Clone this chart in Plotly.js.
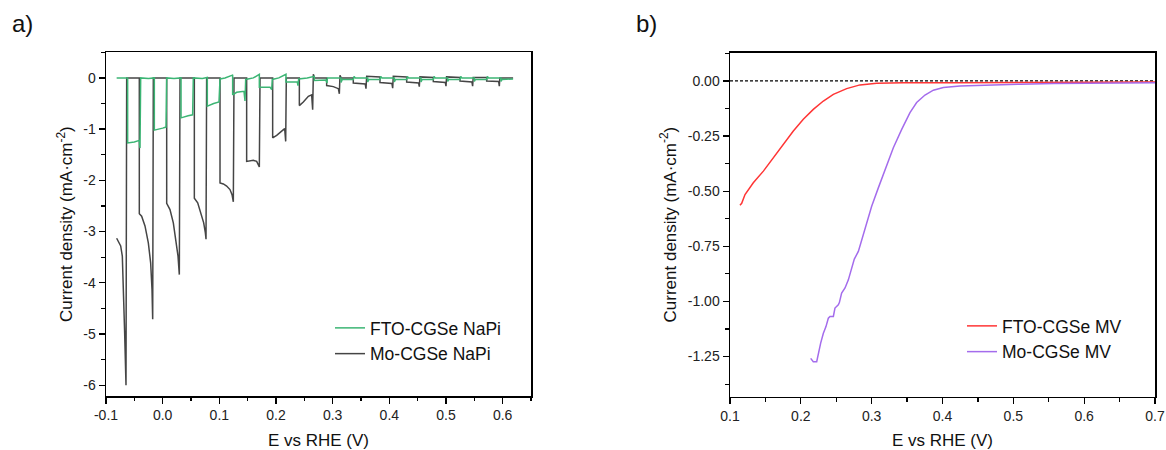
<!DOCTYPE html>
<html>
<head>
<meta charset="utf-8">
<script src="https://cdn.plot.ly/plotly-3.0.1.min.js"></script>
<style>html,body{margin:0;padding:0;background:#fff;}#chart{width:1166px;height:450px;}</style>
</head>
<body>
<div id="chart"></div>
<script>
// ---------- Panel a: chopped-light LSV in NaPi ----------
const moNaPiE = [
  -0.0812, -0.0741, -0.0712, -0.0694, -0.0671, -0.0647, -0.0635,
  -0.0412, -0.0412, -0.0371, -0.0312, -0.0253, -0.0212, -0.0188, -0.0176, -0.0165,
  0.0071, 0.0071, 0.0129, 0.0188, 0.0235, 0.0271, 0.0294, 0.0306,
  0.0559, 0.0559, 0.0618, 0.0676, 0.0724, 0.0753, 0.0765, 0.0776,
  0.1012, 0.1012, 0.1071, 0.1129, 0.1188, 0.1224, 0.1247, 0.1259,
  0.1482, 0.1482, 0.1600, 0.1659, 0.1688, 0.1706, 0.1718,
  0.1941, 0.1941, 0.2012, 0.2100, 0.2153, 0.2171, 0.2182,
  0.2412, 0.2412, 0.2482, 0.2571, 0.2629, 0.2647, 0.2659, 0.2680,
  0.2894, 0.2894, 0.3012, 0.3100, 0.3118, 0.3129, 0.3150,
  0.3364, 0.3364, 0.3575, 0.3588, 0.3600,
  0.3835, 0.3835, 0.4046, 0.4059, 0.4070,
  0.4306, 0.4306, 0.4517, 0.4529, 0.4540,
  0.4776, 0.4776, 0.4988, 0.5000, 0.5010,
  0.5247, 0.5247, 0.5458, 0.5470, 0.5480,
  0.5718, 0.5718, 0.5929, 0.5941, 0.5950,
  0.6184
];
const moNaPiJ = [
  -3.13, -3.28, -3.48, -4.00, -4.97, -6.00, 0.00,
  0.00, -2.65, -2.70, -2.89, -3.22, -3.61, -4.13, -4.71, 0.00,
  0.00, -2.45, -2.57, -2.83, -3.15, -3.48, -3.84, 0.00,
  0.00, -2.35, -2.44, -2.63, -2.83, -3.02, -3.15, 0.00,
  0.00, -2.05, -2.07, -2.11, -2.18, -2.28, -2.42, 0.00,
  0.00, -1.63, -1.61, -1.63, -1.69, -1.74, 0.00,
  0.00, -1.17, -1.12, -1.04, -0.99, -1.24, 0.00,
  0.00, -0.54, -0.47, -0.36, -0.33, -0.62, 0.07, 0.00,
  0.00, -0.15, -0.17, -0.21, -0.31, 0.05, 0.00,
  0.00, -0.10, -0.12, -0.21, 0.03,
  0.02, -0.09, -0.11, -0.20, 0.03,
  0.02, -0.08, -0.10, -0.17, 0.02,
  0.01, -0.07, -0.09, -0.16, 0.02,
  0.01, -0.06, -0.08, -0.16, 0.01,
  0.01, -0.06, -0.07, -0.16, 0.00,
  0.00
];
const ftoNaPiE = [
  -0.0812, -0.0618, -0.0618, -0.0500, -0.0412, -0.0400, -0.0388,
  -0.0250, -0.0147, -0.0147, 0.0000, 0.0059, 0.0071,
  0.0200, 0.0324, 0.0324, 0.0450, 0.0529, 0.0541,
  0.0700, 0.0788, 0.0788, 0.0900, 0.0994, 0.1012,
  0.1100, 0.1220, 0.1235, 0.1235, 0.1306, 0.1435, 0.1453, 0.1465,
  0.1600, 0.1690, 0.1706, 0.1706, 0.1894, 0.1924, 0.1935,
  0.2050, 0.2160, 0.2176, 0.2176, 0.2376, 0.2388, 0.2400,
  0.2550, 0.2676, 0.2676, 0.2880, 0.2900, 0.2906,
  0.3147, 0.3147, 0.3170, 0.3365, 0.3377, 0.3400,
  0.3618, 0.3618, 0.3640, 0.3836, 0.3848, 0.3870,
  0.4088, 0.4088, 0.4110, 0.4306, 0.4318, 0.4340,
  0.4559, 0.4559, 0.4580, 0.4777, 0.4789, 0.4810,
  0.5030, 0.5030, 0.5050, 0.5248, 0.5260, 0.5280,
  0.5500, 0.5500, 0.5520, 0.5718, 0.5730, 0.5750,
  0.5970, 0.5970, 0.5990, 0.6184
];
const ftoNaPiJ = [
  0.00, 0.00, -1.27, -1.25, -1.22, -1.37, 0.00,
  -0.01, 0.00, -1.02, -0.98, -0.96, 0.00,
  -0.01, 0.00, -0.78, -0.74, -0.72, 0.00,
  -0.01, 0.01, -0.55, -0.50, -0.47, -0.02,
  0.00, 0.05, 0.06, -0.33, -0.28, -0.26, -0.45, -0.03,
  0.00, 0.06, 0.07, -0.18, -0.18, -0.23, -0.03,
  0.00, 0.07, 0.07, -0.08, -0.08, -0.15, -0.02,
  0.00, 0.03, -0.05, -0.04, -0.10, 0.00,
  0.00, -0.09, -0.03, -0.03, 0.03, 0.00,
  0.00, -0.08, -0.03, -0.03, 0.03, 0.00,
  0.00, -0.08, -0.03, -0.03, 0.03, 0.00,
  0.00, -0.08, -0.03, -0.03, 0.03, 0.00,
  0.00, -0.07, -0.03, -0.03, 0.03, 0.00,
  0.00, -0.07, -0.03, -0.03, 0.03, 0.00,
  0.00, -0.07, -0.03, -0.02
];

// ---------- Panel b: LSV with methyl viologen ----------
const ftoMvE = [0.1141, 0.1165, 0.1212, 0.1329, 0.1471, 0.1612, 0.1753, 0.1894, 0.2035, 0.2176,
  0.2318, 0.2459, 0.2647, 0.2835, 0.3071, 0.3447, 0.4153, 0.5094, 0.6035, 0.7000];
const ftoMvJ = [-0.564, -0.555, -0.515, -0.462, -0.409, -0.348, -0.288, -0.227, -0.174, -0.129,
  -0.091, -0.061, -0.035, -0.018, -0.011, -0.008, -0.008, -0.007, -0.006, -0.005];
const moMvE = [0.2139, 0.2176, 0.2224, 0.2247, 0.2280, 0.2318, 0.2355, 0.2388, 0.2412, 0.2459,
  0.2482, 0.2529, 0.2544, 0.2576, 0.2624, 0.2671, 0.2718, 0.2755, 0.2812, 0.2859,
  0.2929, 0.3000, 0.3094, 0.3188, 0.3306, 0.3424, 0.3541, 0.3635, 0.3753, 0.3871,
  0.4012, 0.4247, 0.4624, 0.5094, 0.5565, 0.6035, 0.7000];
const moMvJ = [-1.258, -1.273, -1.273, -1.235, -1.189, -1.144, -1.114, -1.076, -1.068, -1.068,
  -1.030, -1.015, -1.005, -0.962, -0.939, -0.902, -0.848, -0.808, -0.773, -0.720,
  -0.644, -0.568, -0.485, -0.402, -0.303, -0.220, -0.144, -0.098, -0.064, -0.042,
  -0.030, -0.023, -0.018, -0.015, -0.012, -0.011, -0.008];
const zeroLineE = [0.1, 0.7];
const zeroLineJ = [0, 0];

// ---------- tick labels ----------
const aXTickVals = [-0.1, 0, 0.1, 0.2, 0.3, 0.4, 0.5, 0.6];
const aXTickText = ['-0.1', '0.0', '0.1', '0.2', '0.3', '0.4', '0.5', '0.6'];
const aYTickVals = [0, -1, -2, -3, -4, -5, -6];
const aYTickText = ['0', '-1', '-2', '-3', '-4', '-5', '-6'];
const bXTickVals = [0.1, 0.2, 0.3, 0.4, 0.5, 0.6, 0.7];
const bXTickText = ['0.1', '0.2', '0.3', '0.4', '0.5', '0.6', '0.7'];
const bYTickVals = [0, -0.25, -0.5, -0.75, -1.0, -1.25];
const bYTickText = ['0.00', '-0.25', '-0.50', '-0.75', '-1.00', '-1.25'];

const FONT = 'Liberation Sans, Arial, sans-serif';
const W = 1166, H = 450;

const traces = [
  {x: moNaPiE, y: moNaPiJ, xaxis: 'x', yaxis: 'y', mode: 'lines', name: 'Mo-CGSe NaPi',
   line: {color: '#454545', width: 1.5}, legend: 'legend', legendrank: 2},
  {x: ftoNaPiE, y: ftoNaPiJ, xaxis: 'x', yaxis: 'y', mode: 'lines', name: 'FTO-CGSe NaPi',
   line: {color: '#3CB574', width: 1.5}, legend: 'legend', legendrank: 1},
  {x: zeroLineE, y: zeroLineJ, xaxis: 'x2', yaxis: 'y2', mode: 'lines', showlegend: false,
   line: {color: '#000', width: 1.2, dash: '3px,2px'}, hoverinfo: 'skip'},
  {x: ftoMvE, y: ftoMvJ, xaxis: 'x2', yaxis: 'y2', mode: 'lines', name: 'FTO-CGSe MV',
   line: {color: '#FF3535', width: 1.5}, legend: 'legend2', legendrank: 1},
  {x: moMvE, y: moMvJ, xaxis: 'x2', yaxis: 'y2', mode: 'lines', name: 'Mo-CGSe MV',
   line: {color: '#A46CEC', width: 1.5}, legend: 'legend2', legendrank: 2}
];

const TITLE_FONT = {family: FONT, size: 17, color: '#111'};
const MINOR = {ticks: 'outside', ticklen: 3.5, tickwidth: 1.2, tickcolor: '#000'};

function axisBase(extra) {
  return Object.assign({
    showline: true, linecolor: '#000', linewidth: 1.5, mirror: true,
    ticks: 'outside', ticklen: 6, tickwidth: 1.3, tickcolor: '#000',
    showgrid: false, zeroline: false, tickmode: 'array',
    tickfont: {family: FONT, size: 14, color: '#222'}
  }, extra);
}

const layout = {
  width: W, height: H,
  margin: {l: 0, r: 0, t: 0, b: 0},
  paper_bgcolor: '#fff', plot_bgcolor: '#fff',
  font: {family: FONT, color: '#111'},
  xaxis: axisBase({domain: [106/W, 531/W], range: [-0.1, 0.65], anchor: 'y',
    tickvals: aXTickVals, ticktext: aXTickText,
    minor: Object.assign({dtick: 0.05, tick0: 0}, MINOR),
    title: {text: 'E vs RHE (V)', font: TITLE_FONT}}),
  yaxis: axisBase({domain: [(H-396)/H, (H-52.3)/H], range: [-6.21, 0.5], anchor: 'x',
    tickvals: aYTickVals, ticktext: aYTickText,
    minor: Object.assign({dtick: 0.5, tick0: 0}, MINOR),
    title: {text: 'Current density (mA·cm<sup>-2</sup>)', font: TITLE_FONT, standoff: 6}}),
  xaxis2: axisBase({domain: [730/W, 1155/W], range: [0.1, 0.7], anchor: 'y2',
    tickvals: bXTickVals, ticktext: bXTickText,
    minor: Object.assign({dtick: 0.05, tick0: 0}, MINOR),
    title: {text: 'E vs RHE (V)', font: TITLE_FONT}}),
  yaxis2: axisBase({domain: [(H-396.5)/H, (H-52.7)/H], range: [-1.431, 0.128], anchor: 'x2',
    tickvals: bYTickVals, ticktext: bYTickText,
    minor: Object.assign({dtick: 0.125, tick0: 0}, MINOR),
    title: {text: 'Current density (mA·cm<sup>-2</sup>)', font: TITLE_FONT, standoff: 7}}),
  legend: {x: 330/W, xanchor: 'left', y: 1 - 310/H, yanchor: 'top', bgcolor: 'rgba(0,0,0,0)',
    borderwidth: 0, font: {family: FONT, size: 17.5, color: '#111'}, tracegroupgap: 0},
  legend2: {x: 962/W, xanchor: 'left', y: 1 - 308/H, yanchor: 'top', bgcolor: 'rgba(0,0,0,0)',
    borderwidth: 0, font: {family: FONT, size: 17.5, color: '#111'}, tracegroupgap: 0},
  showlegend: true,
  annotations: [
    {text: 'a)', x: 10/W, y: 1 - 23/H, xref: 'paper', yref: 'paper', xanchor: 'left', yanchor: 'middle',
     showarrow: false, font: {family: FONT, size: 24, color: '#111'}},
    {text: 'b)', x: 634/W, y: 1 - 23/H, xref: 'paper', yref: 'paper', xanchor: 'left', yanchor: 'middle',
     showarrow: false, font: {family: FONT, size: 24, color: '#111'}}
  ]
};

Plotly.newPlot('chart', traces, layout, {displayModeBar: false, staticPlot: true});
</script>
</body>
</html>
